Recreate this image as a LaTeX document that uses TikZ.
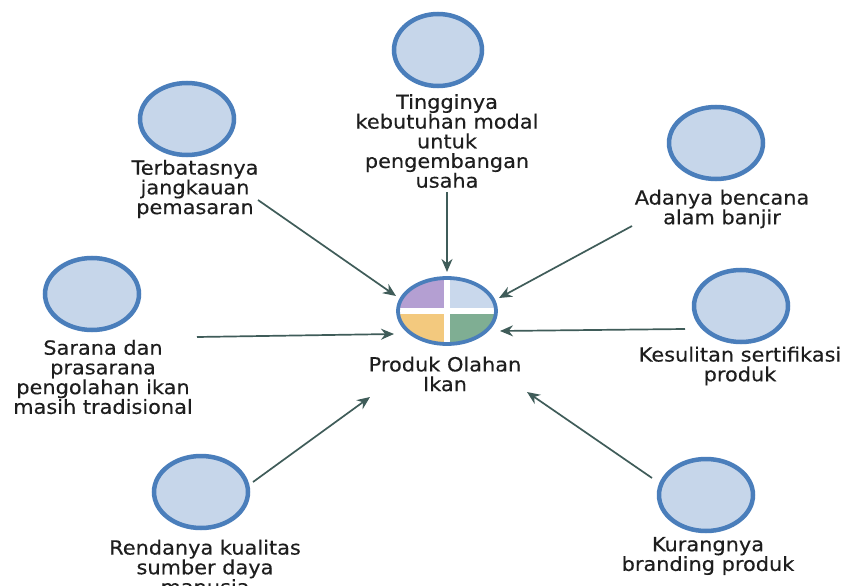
\documentclass[tikz,border=0pt]{standalone}
\usepackage{fontspec}
\usetikzlibrary{arrows.meta,shapes.geometric}
\newfontfamily\lblfont[FakeStretch=1.07,FakeBold=0.3]{DejaVu Sans}
\definecolor{ringblue}{HTML}{4A7EBB}
\definecolor{bubble}{HTML}{C6D6EA}
\definecolor{quadpurple}{HTML}{B49FD2}
\definecolor{quadblue}{HTML}{C9D8EC}
\definecolor{quadorange}{HTML}{F3C97E}
\definecolor{quadgreen}{HTML}{7FAE93}
\definecolor{linkgreen}{HTML}{3F5C59}
\definecolor{inktext}{HTML}{1E1E1E}
\begin{document}
\begin{tikzpicture}[x=1pt,y=-1pt,
  cause/.style={ellipse,draw=ringblue,fill=bubble,line width=4.5pt,
    minimum width=94pt,minimum height=72pt,inner sep=0pt},
  core/.style={ellipse,draw=ringblue,line width=3.8pt,
    minimum width=98pt,minimum height=66pt,inner sep=0pt},
  caption/.style={align=center,inner sep=0pt,text=inktext,
    font=\lblfont\fontsize{19.5}{19.7}\selectfont},
  link/.style={draw=linkgreen,line width=1.7pt,
    -{Stealth[length=13pt,width=11pt]}}]
\useasboundingbox (0,0) rectangle (847,586);
\fill[white] (0,0) rectangle (847,586);

% central effect: four coloured quarters split by a white cross
\node[core,path picture={
  \coordinate (pc) at (path picture bounding box.center);
  \fill[quadpurple] (pc) rectangle ++(-60,-40);
  \fill[quadblue] (pc) rectangle ++(60,-40);
  \fill[quadorange] (pc) rectangle ++(-60,40);
  \fill[quadgreen] (pc) rectangle ++(60,40);
  \draw[white,line width=5.5pt] ([xshift=-60pt]pc) -- ([xshift=60pt]pc);
  \draw[white,line width=5.5pt] ([yshift=-40pt]pc) -- ([yshift=40pt]pc);
}] (prod) at (447,311) {};
\node[caption] (prodT) at (445,374) {Produk Olahan\\Ikan};

% causes
\node[cause,minimum width=88pt] (c1) at (438,50) {};
\node[caption] (c1T) at (447,141) {Tingginya\\kebutuhan modal\\untuk\\pengembangan\\usaha};

\node[cause] (c2) at (187,119) {};
\node[caption] (c2T) at (195,189) {Terbatasnya\\jangkauan\\pemasaran};

\node[cause] (c3) at (716,143) {};
\node[caption] (c3T) at (722,209) {Adanya bencana\\alam banjir};

\node[cause] (c4) at (92,294) {};
\node[caption] (c4T) at (103,377) {Sarana dan\\prasarana\\pengolahan ikan\\masih tradisional};

\node[cause] (c5) at (741,306) {};
\node[caption] (c5T) at (740,366) {Kesulitan sertifikasi\\produk};

\node[cause] (c6) at (201,492) {};
\node[caption] (c6T) at (205,567) {Rendanya kualitas\\sumber daya\\manusia};

\node[cause] (c7) at (706,495) {};
\node[caption] (c7T) at (708,556) {Kurangnya\\branding produk};

% arrow tails and heads
\coordinate (t1) at (447,192);  \coordinate (h1) at (447,272);
\coordinate (t2) at (258,200);  \coordinate (h2) at (396,296);
\coordinate (t3) at (632,226);  \coordinate (h3) at (499,298);
\coordinate (t4) at (197,337);  \coordinate (h4) at (394,334);
\coordinate (t5) at (685,329);  \coordinate (h5) at (500,331);
\coordinate (t6) at (253,482);  \coordinate (h6) at (370,397);
\coordinate (t7) at (652,478);  \coordinate (h7) at (527,392);

\foreach \i in {1,...,7} {\draw[link] (t\i) -- (h\i);}
\end{tikzpicture}
\end{document}
